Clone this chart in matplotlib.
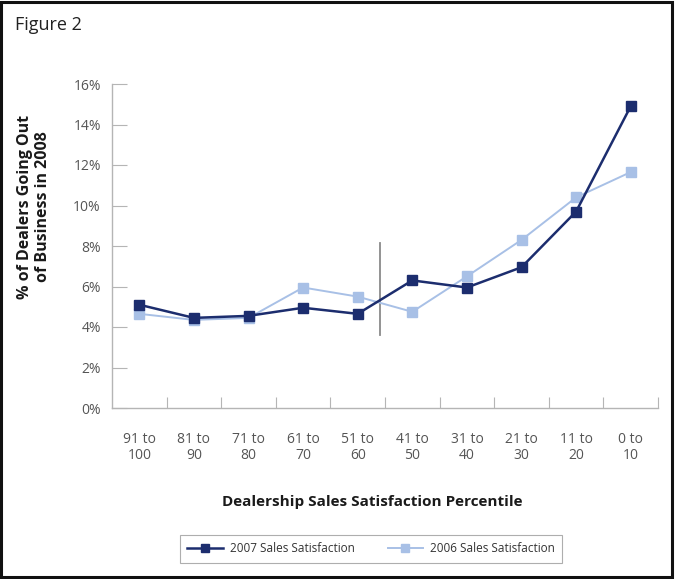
import matplotlib.pyplot as plt
from matplotlib.patches import Rectangle
from matplotlib.lines import Line2D

# Data (percent of dealers going out of business)
categories = ["91 to\n100", "81 to\n90", "71 to\n80", "61 to\n70", "51 to\n60",
              "41 to\n50", "31 to\n40", "21 to\n30", "11 to\n20", "0 to\n10"]
sat_2007 = [5.1, 4.45, 4.55, 4.95, 4.65, 6.3, 5.95, 6.95, 9.7, 14.9]
sat_2006 = [4.65, 4.35, 4.45, 5.95, 5.5, 4.75, 6.5, 8.3, 10.4, 11.65]
y_ticks = [0, 2, 4, 6, 8, 10, 12, 14, 16]

plt.rcParams['font.family'] = ['Open Sans', 'DejaVu Sans']
dark = '#1c2d6e'
light = '#a8c0e6'
grey_axis = '#b5b5b5'
grey_text = '#555555'

fig = plt.figure(figsize=(6.75, 5.79), dpi=100)
ax = fig.add_axes([112/675, 1-408/579, (658-112)/675, (408-84)/579])

x = list(range(len(categories)))
ax.plot(x, sat_2006, color=light, lw=1.4, marker='s', ms=6.5, zorder=3)
ax.plot(x, sat_2007, color=dark, lw=1.8, marker='s', ms=6.5, zorder=4)

# divider line between the upper and lower halves
ax.plot([4.4, 4.4], [3.6, 8.15], color='#8a8a8a', lw=1.3, zorder=2)

ax.set_xlim(-0.5, len(categories) - 0.5)
ax.set_ylim(0, 16)
ax.set_yticks(y_ticks)
ax.set_yticklabels([f"{v}%" for v in y_ticks])
ax.set_xticks(x)
ax.set_xticklabels(categories, linespacing=1.15)
ax.set_xticks([i + 0.5 for i in x], minor=True)

for s in ['top', 'right']:
    ax.spines[s].set_visible(False)
for s in ['left', 'bottom']:
    ax.spines[s].set_color(grey_axis)
    ax.spines[s].set_linewidth(1.0)

ax.tick_params(axis='y', direction='in', length=11, width=0.8, color=grey_axis,
               labelsize=10, labelcolor=grey_text, pad=8)
ax.tick_params(axis='x', which='major', length=0, labelsize=10,
               labelcolor=grey_text, pad=17)
ax.tick_params(axis='x', which='minor', direction='in', length=8, width=0.8,
               color=grey_axis)

fig.text(372/675, 1-502/579, "Dealership Sales Satisfaction Percentile",
         ha='center', va='center', fontsize=11, fontweight='bold', color='#1a1a1a')
fig.text(34/675, 1-207/579, "% of Dealers Going Out\nof Business in 2008",
         ha='center', va='center', rotation=90, fontsize=11.5, fontweight='bold',
         color='#1a1a1a', linespacing=1.1)
fig.text(15/675, 1-25/579, "Figure 2", ha='left', va='center', fontsize=13,
         color='#222222')

# legend
handles = [Line2D([], [], color=dark, lw=1.8, marker='s', ms=6),
           Line2D([], [], color=light, lw=1.4, marker='s', ms=6)]
leg = fig.legend(handles, ["2007 Sales Satisfaction", "2006 Sales Satisfaction"],
                 loc='center', bbox_to_anchor=(371/675, 1-549/579), ncol=2,
                 frameon=True, fancybox=False, fontsize=8.5, handlelength=3.0,
                 columnspacing=2.8, borderpad=0.6, handletextpad=0.6)
leg.get_frame().set_edgecolor('#9a9a9a')
leg.get_frame().set_linewidth(0.8)
for t in leg.get_texts():
    t.set_color('#333333')

# black frame around the whole picture
fig.patches.append(Rectangle((0.002, 0.003), 0.994, 0.994, transform=fig.transFigure,
                             fill=False, edgecolor='#111111', lw=2.2))

fig.savefig("out.png", dpi=100)
